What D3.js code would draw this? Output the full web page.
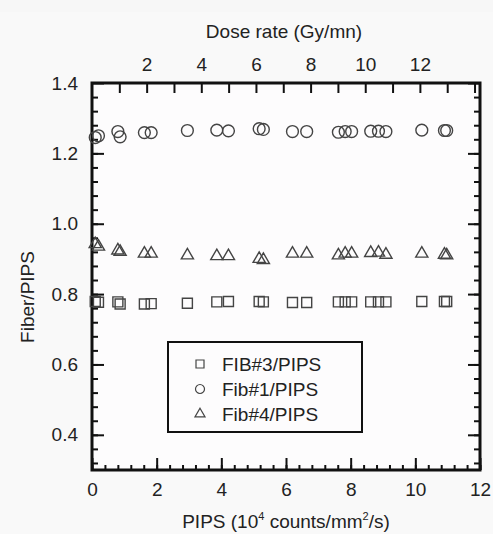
<!DOCTYPE html>
<html>
<head>
<meta charset="utf-8">
<script src="https://cdn.jsdelivr.net/npm/d3@7"></script>
<style>
  body { margin: 0; background: #f7f7f7; }
  text { font-family: Arial, "Liberation Sans", sans-serif; fill: #222; }
</style>
</head>
<body>
<div id="chart"></div>
<script>
var width = 493;
var height = 534;
var margin = { left: 92, right: 13, top: 83, bottom: 64 };

// shared PIPS x values (10^4 counts/mm2/s)
var pipsX = [0.1, 0.2, 0.8, 0.87, 1.62, 1.83, 2.95, 3.86, 4.22, 5.17, 5.3,
  6.2, 6.64, 7.62, 7.83, 8.03, 8.62, 8.86, 9.09, 10.2, 10.9, 10.97];
var fib3 = [0.779, 0.777, 0.778, 0.772, 0.772, 0.773, 0.774, 0.778, 0.779, 0.779, 0.778,
  0.776, 0.776, 0.778, 0.778, 0.778, 0.778, 0.778, 0.778, 0.779, 0.779, 0.779];
var fib1 = [1.245, 1.25, 1.262, 1.247, 1.259, 1.259, 1.265, 1.266, 1.264, 1.27, 1.268,
  1.262, 1.262, 1.26, 1.262, 1.262, 1.263, 1.263, 1.262, 1.266, 1.265, 1.265];
var fib4 = [0.942, 0.935, 0.924, 0.92, 0.915, 0.915, 0.91, 0.908, 0.908, 0.9, 0.897,
  0.915, 0.915, 0.91, 0.915, 0.915, 0.917, 0.918, 0.912, 0.915, 0.912, 0.91];

var seriesNames = ['FIB#3/PIPS', 'Fib#1/PIPS', 'Fib#4/PIPS'];
var xTicks = [0, 2, 4, 6, 8, 10, 12];
var yTicks = [0.4, 0.6, 0.8, 1.0, 1.2, 1.4];
var doseTicks = [1, 2, 3, 4, 5, 6, 7, 8, 9, 10, 11, 12, 13, 14];
var doseLabels = [2, 4, 6, 8, 10, 12];

var svg = d3.select('#chart')
  .append('svg')
  .attr('width', width)
  .attr('height', height);

svg.append('rect')
  .attr('x', 0).attr('y', 12)
  .attr('width', width).attr('height', height - 12)
  .attr('fill', '#f9f9f9');

var x0 = margin.left, x1 = width - margin.right;
var y0 = height - margin.bottom, y1 = margin.top;

var x = d3.scaleLinear().domain([0, 12]).range([x0, x1]);
var y = d3.scaleLinear().domain([0.3, 1.4]).range([y0, y1]);
var dose = d3.scaleLinear().domain([0, 14.2]).range([x0, x1]);

svg.append('rect')
  .attr('x', x0).attr('y', y1)
  .attr('width', x1 - x0).attr('height', y0 - y1)
  .attr('fill', '#fdfcfd');

function styleAxis(g) {
  g.select('.domain').remove();
  g.selectAll('line').attr('stroke', '#111').attr('stroke-width', 2);
  g.selectAll('text').style('font-size', '19px').attr('fill', '#222');
}

var xMinor = d3.range(0, 12.01, 0.4);
var yMinor = d3.range(0.32, 1.4, 0.04);

// bottom
svg.append('g').attr('transform', 'translate(0,' + y0 + ')')
  .call(d3.axisBottom(x).tickValues(xMinor).tickSize(-5).tickFormat(''))
  .call(styleAxis);
svg.append('g').attr('transform', 'translate(0,' + y0 + ')')
  .call(d3.axisBottom(x).tickValues(xTicks).tickSize(-12).tickPadding(13).tickFormat(d3.format('d')))
  .call(styleAxis);

// left
svg.append('g').attr('transform', 'translate(' + x0 + ',0)')
  .call(d3.axisLeft(y).tickValues(yMinor).tickSize(-6).tickFormat(''))
  .call(styleAxis);
svg.append('g').attr('transform', 'translate(' + x0 + ',0)')
  .call(d3.axisLeft(y).tickValues(yTicks).tickSize(-12).tickPadding(14).tickFormat(d3.format('.1f')))
  .call(styleAxis);

// right
svg.append('g').attr('transform', 'translate(' + x1 + ',0)')
  .call(d3.axisRight(y).tickValues(yMinor).tickSize(-6).tickFormat(''))
  .call(styleAxis);
svg.append('g').attr('transform', 'translate(' + x1 + ',0)')
  .call(d3.axisRight(y).tickValues(yTicks).tickSize(-12).tickFormat(''))
  .call(styleAxis);

// top (dose rate)
svg.append('g').attr('transform', 'translate(0,' + y1 + ')')
  .call(d3.axisTop(dose).tickValues(doseTicks).tickSize(-10).tickPadding(12)
    .tickFormat(function(d) { return doseLabels.indexOf(d) >= 0 ? d : ''; }))
  .call(styleAxis);

svg.append('rect')
  .attr('x', x0).attr('y', y1)
  .attr('width', x1 - x0).attr('height', y0 - y1)
  .attr('fill', 'none')
  .attr('stroke', '#111')
  .attr('stroke-width', 3);

// titles
svg.append('text')
  .attr('x', (x0 + x1) / 2 - 2).attr('y', 38)
  .attr('text-anchor', 'middle')
  .style('font-size', '19px')
  .text('Dose rate (Gy/mn)');

var xt = svg.append('text')
  .attr('x', (x0 + x1) / 2).attr('y', 528)
  .attr('text-anchor', 'middle')
  .style('font-size', '19px');
xt.append('tspan').text('PIPS (10');
xt.append('tspan').attr('dy', -8).style('font-size', '11px').text('4');
xt.append('tspan').attr('dy', 8).text(' counts/mm');
xt.append('tspan').attr('dy', -8).style('font-size', '11px').text('2');
xt.append('tspan').attr('dy', 8).text('/s)');

svg.append('text')
  .attr('transform', 'translate(34,297) rotate(-90)')
  .attr('text-anchor', 'middle')
  .style('font-size', '19px')
  .text('Fiber/PIPS');

// points
var series = [
  { name: seriesNames[0], values: fib3, type: d3.symbolSquare, size: 100, lsize: 64 },
  { name: seriesNames[1], values: fib1, type: d3.symbolCircle, size: 110, lsize: 64 },
  { name: seriesNames[2], values: fib4, type: d3.symbolTriangle, size: 64, lsize: 44 }
];

series.forEach(function(s) {
  svg.append('g').selectAll('path')
    .data(pipsX)
    .enter().append('path')
    .attr('transform', function(d, i) { return 'translate(' + x(d) + ',' + y(s.values[i]) + ')'; })
    .attr('d', d3.symbol().type(s.type).size(s.size))
    .attr('fill', 'none')
    .attr('stroke', '#444')
    .attr('stroke-width', 1.4);
});

// legend
var legend = svg.append('g');
legend.append('rect')
  .attr('x', 168).attr('y', 342)
  .attr('width', 194).attr('height', 90)
  .attr('fill', '#fdfcfd')
  .attr('stroke', '#111')
  .attr('stroke-width', 2);

series.forEach(function(s, i) {
  var cy = 364 + i * 25;
  legend.append('path')
    .attr('transform', 'translate(200,' + cy + ')')
    .attr('d', d3.symbol().type(s.type).size(s.lsize))
    .attr('fill', 'none')
    .attr('stroke', '#444')
    .attr('stroke-width', 1.2);
  legend.append('text')
    .attr('x', 222).attr('y', cy + 7)
    .style('font-size', '19px')
    .text(s.name);
});
</script>
</body>
</html>
